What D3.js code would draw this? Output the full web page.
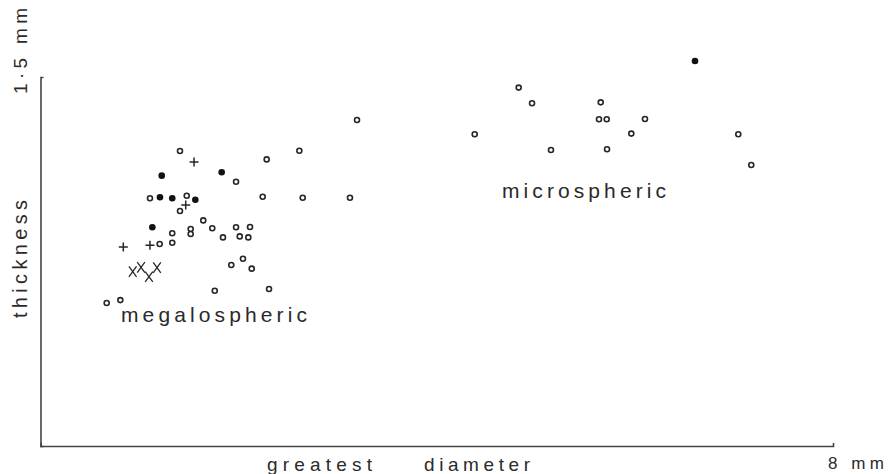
<!DOCTYPE html>
<html>
<head>
<meta charset="utf-8">
<script src="https://cdn.jsdelivr.net/npm/d3@7"></script>
<style>
  html, body { margin: 0; padding: 0; background: #fff; }
  svg { display: block; }
  text { font-family: "Liberation Sans", "DejaVu Sans", sans-serif; fill: #2a2a2a; }
</style>
</head>
<body>
<svg id="chart" width="888" height="474"></svg>
<script>
// Greatest diameter (mm) and thickness (mm)
const openX = [1.408, 2.283, 1.974, 1.105, 1.476, 1.408, 2.243, 1.643, 1.330, 1.516, 1.516, 1.734, 1.974, 2.115, 1.842, 2.011, 2.098, 1.203, 1.330, 2.044, 1.926, 2.132, 1.759, 2.307, 0.668, 0.806, 3.195, 2.613, 2.647, 3.124,
               4.827, 4.962, 4.383, 5.153, 5.655, 5.638, 5.716, 6.102, 5.964, 5.719, 7.044, 7.175];
const openY = [1.199, 1.165, 1.074, 1.007, 1.017, 0.955, 1.013, 0.917, 0.865, 0.882, 0.862, 0.885, 0.889, 0.890, 0.848, 0.852, 0.848, 0.821, 0.826, 0.761, 0.736, 0.721, 0.631, 0.638, 0.581, 0.593, 1.325, 1.200, 1.009, 1.009,
               1.457, 1.393, 1.267, 1.203, 1.397, 1.328, 1.328, 1.329, 1.270, 1.206, 1.267, 1.142];
const filledX = [1.224, 1.829, 1.206, 1.330, 1.563, 1.129, 6.607];
const filledY = [1.099, 1.113, 1.011, 1.007, 1.001, 0.889, 1.565];
const plusX = [1.550, 1.466, 0.836, 1.105];
const plusY = [1.154, 0.980, 0.809, 0.816];
const crossX = [0.931, 1.015, 1.095, 1.176];
const crossY = [0.709, 0.726, 0.688, 0.725];
const xDomain = [0, 8];
const yDomain = [0, 1.5];
const xEndLabel = "8 mm";
const yEndLabel = "1·5 mm";
const xTitle = ["greatest", "diameter"];
const yTitle = "thickness";
const groupLabels = ["megalospheric", "microspheric"];

const svg = d3.select("#chart");
const x = d3.scaleLinear().domain(xDomain).range([40.5, 833]);
const y = d3.scaleLinear().domain(yDomain).range([446, 77]);
const ink = "#262626";

// axes (no ticks, just the frame lines with small end hooks)
svg.append("g").attr("transform", `translate(0,${y(0)})`)
  .call(d3.axisBottom(x).tickValues([]).tickSizeOuter(-3))
  .call(g => g.select(".domain").attr("stroke", "#444").attr("stroke-width", 1.6));
svg.append("g").attr("transform", `translate(${x(0)},0)`)
  .call(d3.axisLeft(y).tickValues([]).tickSizeOuter(-3))
  .call(g => g.select(".domain").attr("stroke", "#444").attr("stroke-width", 1.6));

const zip = (a, b) => a.map((v, i) => [v, b[i]]);

// open circles
svg.append("g").selectAll("circle").data(zip(openX, openY)).join("circle")
  .attr("cx", d => x(d[0])).attr("cy", d => y(d[1])).attr("r", 2.5)
  .attr("fill", "#fff").attr("stroke", ink).attr("stroke-width", 1.6);

// filled circles
svg.append("g").selectAll("circle").data(zip(filledX, filledY)).join("circle")
  .attr("cx", d => x(d[0])).attr("cy", d => y(d[1])).attr("r", 3.3)
  .attr("fill", "#111");

// plus signs
svg.append("g").selectAll("path").data(zip(plusX, plusY)).join("path")
  .attr("d", d => { const cx = x(d[0]), cy = y(d[1]); return `M${cx-4.5},${cy}H${cx+4.5}M${cx},${cy-4.5}V${cy+4.5}`; })
  .attr("stroke", ink).attr("stroke-width", 1.5).attr("fill", "none");

// crosses
svg.append("g").selectAll("path").data(zip(crossX, crossY)).join("path")
  .attr("d", d => { const cx = x(d[0]), cy = y(d[1]); return `M${cx-3.8},${cy-5.2}L${cx+3.8},${cy+5.2}M${cx+3.8},${cy-5.2}L${cx-3.8},${cy+5.2}`; })
  .attr("stroke", ink).attr("stroke-width", 1.3).attr("fill", "none");

// texts
function label(txt, px, py, size, len, rot) {
  const t = svg.append("text").text(txt)
    .attr("font-size", size)
    .attr("textLength", len).attr("lengthAdjust", "spacing");
  if (rot) t.attr("transform", `translate(${px},${py}) rotate(-90)`);
  else t.attr("x", px).attr("y", py);
  return t;
}
label(yEndLabel, 27, 94, 19, 86, true);
label(yTitle, 27, 318, 20, 118, true);
label(groupLabels[0], 121, 322, 21, 186, false);
label(groupLabels[1], 502, 198, 21, 164, false);
label(xTitle[0], 267, 471, 19, 105, false);
label(xTitle[1], 424, 471, 19, 106, false);
label(xEndLabel, 828, 469, 17, 56, false);
</script>
</body>
</html>
